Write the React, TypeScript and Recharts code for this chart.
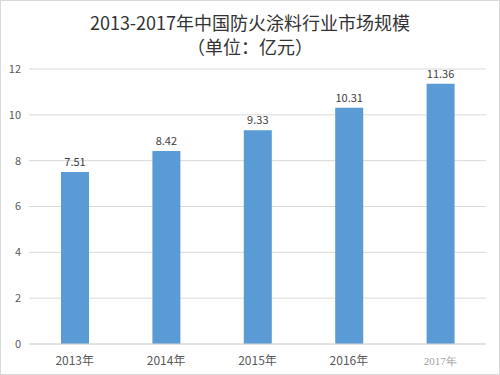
import { Bar, BarChart, CartesianGrid, LabelList, XAxis, YAxis } from "recharts";

const years = ["2013年", "2014年", "2015年", "2016年", "2017年"];
const marketSize = [7.51, 8.42, 9.33, 10.31, 11.36];
const yTicks = [0, 2, 4, 6, 8, 10, 12];

const data = years.map((year, i) => ({ year, value: marketSize[i] }));

const font = "'Noto Sans CJK SC', 'Noto Sans', sans-serif";

function YearTick(props: any) {
  const { x, y, payload, index } = props;
  const last = index === years.length - 1;
  return (
    <text
      x={x}
      y={y + 13}
      textAnchor="middle"
      fontSize={last ? 11 : 12}
      fill={last ? "#a0a0a0" : "#595959"}
      fontFamily={last ? "'Liberation Serif', 'DejaVu Serif', serif" : font}
    >
      {payload.value}
    </text>
  );
}

export default function App() {
  return (
    <div
      style={{
        position: "absolute",
        left: 0,
        top: 0,
        width: 500,
        height: 375,
        boxSizing: "border-box",
        border: "1px solid #d9d9d9",
        background: "#fff",
        fontFamily: font,
      }}
    >
      <div
        style={{
          position: "absolute",
          top: 9,
          width: "100%",
          textAlign: "center",
          fontSize: 18,
          color: "#333",
          lineHeight: "24px",
        }}
      >
        2013-2017年中国防火涂料行业市场规模
        <br />
        （单位：亿元）
      </div>
      <BarChart
        width={498}
        height={373}
        data={data}
        margin={{ top: 68, right: 13, left: 0, bottom: 0 }}
        style={{ position: "absolute", left: 0, top: 0 }}
      >
        <CartesianGrid vertical={false} stroke="#d9d9d9" />
        <XAxis
          dataKey="year"
          height={30}
          stroke="#d9d9d9"
          tickLine={false}
          tick={<YearTick />}
        />
        <YAxis
          width={28}
          domain={[0, 12]}
          ticks={yTicks}
          axisLine={false}
          tickLine={false}
          tick={{ fill: "#595959", fontSize: 11, fontFamily: font }}
        />
        <Bar dataKey="value" fill="#5b9bd5" barSize={28} isAnimationActive={false}>
          <LabelList
            dataKey="value"
            position="top"
            offset={6}
            fill="#404040"
            fontSize={11}
            fontFamily={font}
          />
        </Bar>
      </BarChart>
    </div>
  );
}
